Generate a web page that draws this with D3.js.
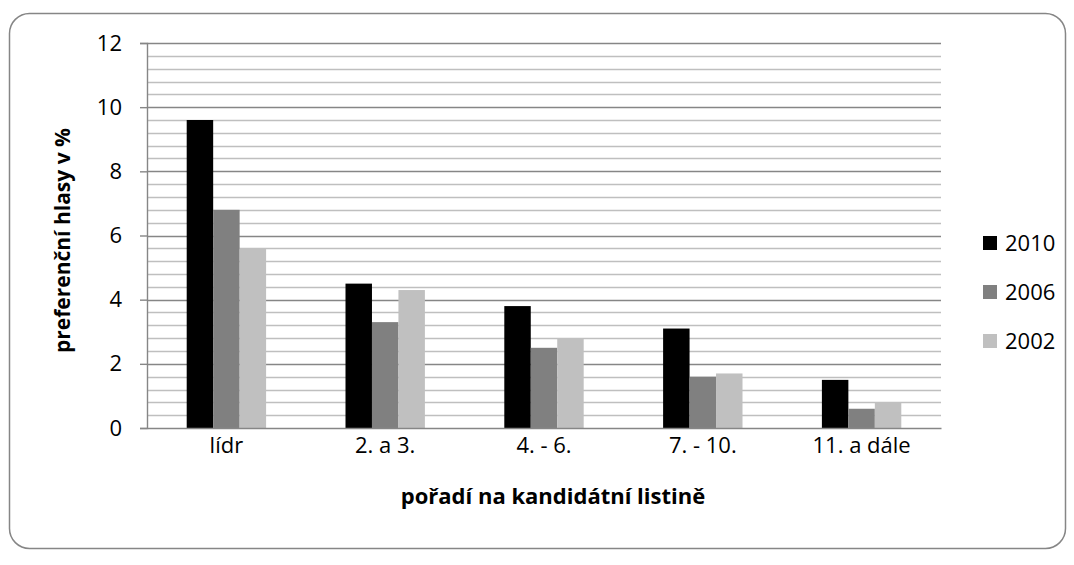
<!DOCTYPE html>
<html>
<head>
<meta charset="utf-8">
<script src="https://cdn.jsdelivr.net/npm/d3@7"></script>
<style>
  html, body { margin: 0; padding: 0; background: #fff; }
  svg { display: block; font-family: "Open Sans", "Noto Sans", sans-serif; }
</style>
</head>
<body>
<svg id="chart" width="1074" height="565"></svg>
<script>
// Categories (candidate list position) and preferential vote shares in %
const categories = ["lídr", "2. a 3.", "4. - 6.", "7. - 10.", "11. a dále"];
const seriesNames = ["2010", "2006", "2002"];
const values2010 = [9.6, 4.5, 3.8, 3.1, 1.5];
const values2006 = [6.8, 3.3, 2.5, 1.6, 0.6];
const values2002 = [5.6, 4.3, 2.8, 1.7, 0.8];
const yTicks = [0, 2, 4, 6, 8, 10, 12];
const seriesColors = ["#000000", "#808080", "#c0c0c0"];

const series = [values2010, values2006, values2002];

const svg = d3.select("#chart");

// Outer rounded frame
svg.append("rect")
  .attr("x", 9.5).attr("y", 13.5)
  .attr("width", 1056).attr("height", 535)
  .attr("rx", 20).attr("ry", 20)
  .attr("fill", "#fff")
  .attr("stroke", "#868686")
  .attr("stroke-width", 1.5);

const plot = { left: 147, right: 941, top: 43, bottom: 428 };

const x = d3.scaleBand()
  .domain(categories)
  .range([plot.left, plot.right])
  .paddingInner(0).paddingOuter(0);

const xs = d3.scaleBand()
  .domain(seriesNames)
  .range([x.bandwidth() / 4, x.bandwidth() * 3 / 4]);

const y = d3.scaleLinear().domain([0, 12]).range([plot.bottom, plot.top]);

// Minor gridlines every 0.4
const minor = d3.range(0, 12.0001, 0.4).filter(v => Math.abs(v / 2 - Math.round(v / 2)) > 1e-6);
svg.append("g").selectAll("line").data(minor).join("line")
  .attr("x1", plot.left).attr("x2", plot.right)
  .attr("y1", d => Math.round(y(d)) + 0.5).attr("y2", d => Math.round(y(d)) + 0.5)
  .attr("stroke", "#bfbfbf").attr("stroke-width", 1.4);

// Major gridlines at each labelled tick
svg.append("g").selectAll("line").data(yTicks.filter(d => d > 0)).join("line")
  .attr("x1", plot.left).attr("x2", plot.right)
  .attr("y1", d => Math.round(y(d)) + 0.5).attr("y2", d => Math.round(y(d)) + 0.5)
  .attr("stroke", "#868686").attr("stroke-width", 1.4);

// Y axis
const yAxis = d3.axisLeft(y).tickValues(yTicks).tickSize(7).tickPadding(18);
const gy = svg.append("g")
  .attr("transform", `translate(${plot.left},0)`)
  .call(yAxis);
gy.select(".domain").attr("stroke", "#868686").attr("stroke-width", 1.4);
gy.selectAll(".tick line").attr("stroke", "#868686").attr("stroke-width", 1.4);
gy.selectAll(".tick text")
  .attr("font-size", 22).attr("fill", "#000")
  .style("font-family", "'Open Sans', sans-serif");

// Bars
const groups = svg.append("g").selectAll("g").data(categories).join("g")
  .attr("transform", d => `translate(${x(d)},0)`);

groups.selectAll("rect")
  .data((c, i) => seriesNames.map((s, j) => ({ s, v: series[j][i], color: seriesColors[j] })))
  .join("rect")
  .attr("x", d => xs(d.s))
  .attr("width", xs.bandwidth())
  .attr("y", d => y(d.v))
  .attr("height", d => y(0) - y(d.v))
  .attr("fill", d => d.color);

// X axis
const xAxis = d3.axisBottom(x).tickSize(0).tickPadding(9);
const gx = svg.append("g")
  .attr("transform", `translate(0,${plot.bottom})`)
  .call(xAxis);
gx.select(".domain").attr("stroke", "#868686").attr("stroke-width", 1.4);
gx.selectAll(".tick text")
  .attr("font-size", 22).attr("fill", "#000")
  .style("font-family", "'Open Sans', sans-serif");

// Axis titles
svg.append("text")
  .attr("x", (plot.left + plot.right) / 2 + 9)
  .attr("y", 504)
  .attr("text-anchor", "middle")
  .attr("font-size", 22).attr("font-weight", "bold")
  .text("pořadí na kandidátní listině");

svg.append("text")
  .attr("transform", `translate(70,${(plot.top + plot.bottom) / 2 + 5}) rotate(-90)`)
  .attr("text-anchor", "middle")
  .attr("font-size", 21).attr("font-weight", "bold")
  .text("preferenční hlasy v %");

// Legend
const legend = svg.append("g").selectAll("g").data(seriesNames).join("g")
  .attr("transform", (d, i) => `translate(983,${243 + i * 49})`);
legend.append("rect")
  .attr("x", 0).attr("y", -7).attr("width", 14).attr("height", 14)
  .attr("fill", (d, i) => seriesColors[i]);
legend.append("text")
  .attr("x", 22).attr("y", 0).attr("dy", "0.35em")
  .attr("font-size", 22).attr("fill", "#000")
  .text(d => d);
</script>
</body>
</html>
